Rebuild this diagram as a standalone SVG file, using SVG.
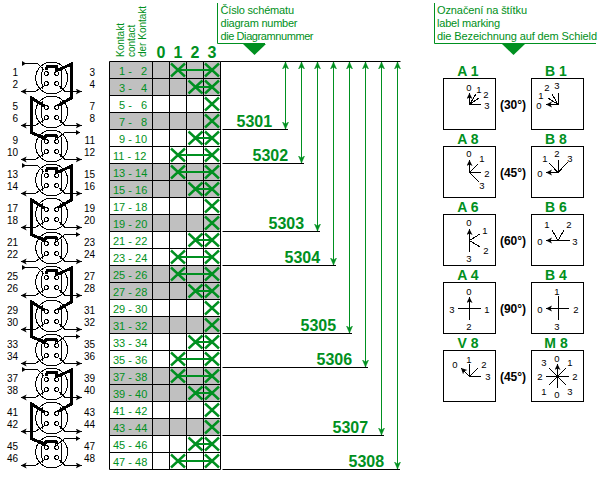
<svg xmlns="http://www.w3.org/2000/svg" xmlns:xlink="http://www.w3.org/1999/xlink" width="600" height="480" viewBox="0 0 600 480">
<style>
text{font-family:"Liberation Sans",Arial,sans-serif}
.g{fill:#009020}
.h{font-size:11px;fill:#009020}
.v{font-size:10px;fill:#009020}
.c{font-size:16px;font-weight:bold;fill:#009020;text-anchor:middle}
.r{font-size:11px;fill:#009020}
.n{font-size:16px;font-weight:bold;fill:#009020}
.t{font-size:14px;font-weight:bold;fill:#009020;text-anchor:middle}
.a{font-size:12px;font-weight:bold;fill:#000;text-anchor:middle}
.d{font-size:9.5px;fill:#000;text-anchor:middle}
.l{font-size:10px;fill:#000;text-anchor:end}
.box{fill:#fff;stroke:#000;stroke-width:1}
.ln{fill:none;stroke:#000;stroke-width:1;shape-rendering:crispEdges}
.ar{fill:none;stroke:#000;stroke-width:1;marker-end:url(#ka);shape-rendering:crispEdges}
.thick{fill:none;stroke:#000;stroke-width:3;shape-rendering:crispEdges}
.gr{fill:#c0c0c0}
.gw{fill:none;stroke:#009020;stroke-width:1;marker-start:url(#ga);marker-end:url(#ga)}
.gl{stroke:#009020;stroke-width:2}
.bk{stroke:#000;stroke-width:1}
</style>
<defs>
<marker id="ga" markerUnits="userSpaceOnUse" markerWidth="9" markerHeight="9" refX="7" refY="4" orient="auto-start-reverse"><path d="M0,1 L7,4 L0,7 L2,4 z" fill="#009020" stroke="#009020" stroke-width="0.5"/></marker>
<marker id="ka" markerUnits="userSpaceOnUse" markerWidth="7" markerHeight="7" refX="6" refY="3" orient="auto"><path d="M0,0 L6,3 L0,6 L1.5,3 z" fill="#000"/></marker>
<g id="x"><path d="M-7,-6.5 L7,6.5 M-7,6.5 L7,-6.5" stroke="#009020" stroke-width="2.4" fill="none"/></g>
<g id="x2"><use xlink:href="#x" href="#x" x="195.5"/><use xlink:href="#x" href="#x" x="212"/><path class="gl" d="M195.5,0 H212"/></g>
<g id="x1"><use xlink:href="#x" href="#x" x="178"/><use xlink:href="#x" href="#x" x="212"/><path class="gl" d="M178,0 H212"/></g>
<g id="sy">
<circle r="16" class="ln"/>
<circle cx="-5.5" cy="-4.5" r="2" class="ln"/><circle cx="5" cy="-4.5" r="2" class="ln"/><circle cx="-5.5" cy="5.5" r="2" class="ln"/><circle cx="5" cy="5.5" r="2" class="ln"/>
<path class="ln" d="M-9,-11 Q-11,0 -9,11 M9,-11 Q11,0 9,11"/>
<path class="ar" d="M-7,7.5 L-16.5,13.5 H-31"/>
<path class="ar" d="M7,7.5 L13.5,13.5 H30"/>
</g>
<path id="tip" d="M0,-2.5 L4,0 L0,2.5 z"/>
</defs>
<rect width="600" height="480" fill="#fff"/>

<g id="sym-1"><use xlink:href="#sy" href="#sy" x="51.7" y="78"/><path class="ln" d="M22,63.5 H37.3 L44,70"/><use xlink:href="#tip" href="#tip" x="22" y="63.5"/><path class="thick" d="M46,70 L47.5,66.5 H56.5 L57,70.5 L71.7,64 V97.7 L57.3,106"/><text class="l" x="18" y="76">1</text><text class="l" x="18" y="88">2</text><text class="l" x="95" y="76">3</text><text class="l" x="95" y="88">4</text></g>
<g id="sym-2"><use xlink:href="#sy" href="#sy" x="51.7" y="112"/><path class="thick" d="M44.3,106 L31,97.7 V132.3 L44.3,138.3 L46.7,135 H56 L56.7,138.3"/><text class="l" x="18" y="110">5</text><text class="l" x="18" y="122">6</text><text class="l" x="95" y="110">7</text><text class="l" x="95" y="122">8</text></g>
<g id="sym-3"><use xlink:href="#sy" href="#sy" x="51.7" y="146"/><path class="ln" d="M57.3,138.3 L65,132.5 H80"/><use xlink:href="#tip" href="#tip" x="76" y="132.5"/><text class="l" x="18" y="144">9</text><text class="l" x="18" y="156">10</text><text class="l" x="95" y="144">11</text><text class="l" x="95" y="156">12</text></g>
<g id="sym-4"><use xlink:href="#sy" href="#sy" x="51.7" y="180"/><path class="ln" d="M22,165.5 H37.3 L44,172"/><use xlink:href="#tip" href="#tip" x="22" y="165.5"/><path class="thick" d="M46,172 L47.5,168.5 H56.5 L57,172.5 L71.7,166 V199.7 L57.3,208"/><text class="l" x="18" y="178">13</text><text class="l" x="18" y="190">14</text><text class="l" x="95" y="178">15</text><text class="l" x="95" y="190">16</text></g>
<g id="sym-5"><use xlink:href="#sy" href="#sy" x="51.7" y="214"/><path class="thick" d="M44.3,208 L31,199.7 V234.3 L44.3,240.3 L46.7,237 H56 L56.7,240.3"/><text class="l" x="18" y="212">17</text><text class="l" x="18" y="224">18</text><text class="l" x="95" y="212">19</text><text class="l" x="95" y="224">20</text></g>
<g id="sym-6"><use xlink:href="#sy" href="#sy" x="51.7" y="248"/><path class="ln" d="M57.3,240.3 L65,234.5 H80"/><use xlink:href="#tip" href="#tip" x="76" y="234.5"/><text class="l" x="18" y="246">21</text><text class="l" x="18" y="258">22</text><text class="l" x="95" y="246">23</text><text class="l" x="95" y="258">24</text></g>
<g id="sym-7"><use xlink:href="#sy" href="#sy" x="51.7" y="282"/><path class="ln" d="M22,267.5 H37.3 L44,274"/><use xlink:href="#tip" href="#tip" x="22" y="267.5"/><path class="thick" d="M46,274 L47.5,270.5 H56.5 L57,274.5 L71.7,268 V301.7 L57.3,310"/><text class="l" x="18" y="280">25</text><text class="l" x="18" y="292">26</text><text class="l" x="95" y="280">27</text><text class="l" x="95" y="292">28</text></g>
<g id="sym-8"><use xlink:href="#sy" href="#sy" x="51.7" y="316"/><path class="thick" d="M44.3,310 L31,301.7 V336.3 L44.3,342.3 L46.7,339 H56 L56.7,342.3"/><text class="l" x="18" y="314">29</text><text class="l" x="18" y="326">30</text><text class="l" x="95" y="314">31</text><text class="l" x="95" y="326">32</text></g>
<g id="sym-9"><use xlink:href="#sy" href="#sy" x="51.7" y="350"/><path class="ln" d="M57.3,342.3 L65,336.5 H80"/><use xlink:href="#tip" href="#tip" x="76" y="336.5"/><text class="l" x="18" y="348">33</text><text class="l" x="18" y="360">34</text><text class="l" x="95" y="348">35</text><text class="l" x="95" y="360">36</text></g>
<g id="sym-10"><use xlink:href="#sy" href="#sy" x="51.7" y="384"/><path class="ln" d="M22,369.5 H37.3 L44,376"/><use xlink:href="#tip" href="#tip" x="22" y="369.5"/><path class="thick" d="M46,376 L47.5,372.5 H56.5 L57,376.5 L71.7,370 V403.7 L57.3,412"/><text class="l" x="18" y="382">37</text><text class="l" x="18" y="394">38</text><text class="l" x="95" y="382">39</text><text class="l" x="95" y="394">40</text></g>
<g id="sym-11"><use xlink:href="#sy" href="#sy" x="51.7" y="418"/><path class="thick" d="M44.3,412 L31,403.7 V438.3 L44.3,444.3 L46.7,441 H56 L56.7,444.3"/><text class="l" x="18" y="416">41</text><text class="l" x="18" y="428">42</text><text class="l" x="95" y="416">43</text><text class="l" x="95" y="428">44</text></g>
<g id="sym-12"><use xlink:href="#sy" href="#sy" x="51.7" y="452"/><path class="ln" d="M57.3,444.3 L65,438.5 H80"/><use xlink:href="#tip" href="#tip" x="76" y="438.5"/><text class="l" x="18" y="450">45</text><text class="l" x="18" y="462">46</text><text class="l" x="95" y="450">47</text><text class="l" x="95" y="462">48</text></g>

<g id="table">
<rect class="gr" x="109.5" y="61.5" width="111" height="34"/>
<rect class="gr" x="109.5" y="112.5" width="111" height="17"/>
<rect class="gr" x="109.5" y="163.5" width="111" height="34"/>
<rect class="gr" x="109.5" y="214.5" width="111" height="17"/>
<rect class="gr" x="109.5" y="265.5" width="111" height="34"/>
<rect class="gr" x="109.5" y="316.5" width="111" height="17"/>
<rect class="gr" x="109.5" y="367.5" width="111" height="34"/>
<rect class="gr" x="109.5" y="418.5" width="111" height="17"/>
<path class="bk" fill="none" d="M109.5,61.5 H220.5 M109.5,78.5 H220.5 M109.5,95.5 H220.5 M109.5,112.5 H220.5 M109.5,129.5 H220.5 M109.5,146.5 H220.5 M109.5,163.5 H220.5 M109.5,180.5 H220.5 M109.5,197.5 H220.5 M109.5,214.5 H220.5 M109.5,231.5 H220.5 M109.5,248.5 H220.5 M109.5,265.5 H220.5 M109.5,282.5 H220.5 M109.5,299.5 H220.5 M109.5,316.5 H220.5 M109.5,333.5 H220.5 M109.5,350.5 H220.5 M109.5,367.5 H220.5 M109.5,384.5 H220.5 M109.5,401.5 H220.5 M109.5,418.5 H220.5 M109.5,435.5 H220.5 M109.5,452.5 H220.5 M109.5,469.5 H220.5 M109.5,61.5 V469.5 M152.5,61.5 V469.5 M169.5,61.5 V469.5 M186.5,61.5 V469.5 M203.5,61.5 V469.5 M220.5,61.5 V469.5"/>
<text class="v" transform="rotate(-90 124 57)" x="124" y="57">Kontakt</text>
<text class="v" transform="rotate(-90 135 57)" x="135" y="57">contact</text>
<text class="v" transform="rotate(-90 146 57)" x="146" y="57">der Kontakt</text>
<text class="c" x="161" y="58">0</text><text class="c" x="178" y="58">1</text><text class="c" x="195" y="58">2</text><text class="c" x="212" y="58">3</text>
<text class="r" x="119" y="74.5">1 - <tspan x="141">2</tspan></text>
<text class="r" x="119" y="91.5">3 - <tspan x="141">4</tspan></text>
<text class="r" x="119" y="108.5">5 - <tspan x="141">6</tspan></text>
<text class="r" x="119" y="125.5">7 - <tspan x="141">8</tspan></text>
<text class="r" x="119" y="142.5">9 - <tspan x="134.8">10</tspan></text>
<text class="r" x="113" y="159.5">11 - 12</text>
<text class="r" x="113" y="176.5">13 - 14</text>
<text class="r" x="113" y="193.5">15 - 16</text>
<text class="r" x="113" y="210.5">17 - 18</text>
<text class="r" x="113" y="227.5">19 - 20</text>
<text class="r" x="113" y="244.5">21 - 22</text>
<text class="r" x="113" y="261.5">23 - 24</text>
<text class="r" x="113" y="278.5">25 - 26</text>
<text class="r" x="113" y="295.5">27 - 28</text>
<text class="r" x="113" y="312.5">29 - 30</text>
<text class="r" x="113" y="329.5">31 - 32</text>
<text class="r" x="113" y="346.5">33 - 34</text>
<text class="r" x="113" y="363.5">35 - 36</text>
<text class="r" x="113" y="380.5">37 - 38</text>
<text class="r" x="113" y="397.5">39 - 40</text>
<text class="r" x="113" y="414.5">41 - 42</text>
<text class="r" x="113" y="431.5">43 - 44</text>
<text class="r" x="113" y="448.5">45 - 46</text>
<text class="r" x="113" y="465.5">47 - 48</text>
<use xlink:href="#x1" href="#x1" y="70"/>
<use xlink:href="#x2" href="#x2" y="87"/>
<use xlink:href="#x" href="#x" x="212" y="104"/>
<use xlink:href="#x" href="#x" x="212" y="121"/>
<use xlink:href="#x2" href="#x2" y="138"/>
<use xlink:href="#x1" href="#x1" y="155"/>
<use xlink:href="#x1" href="#x1" y="172"/>
<use xlink:href="#x2" href="#x2" y="189"/>
<use xlink:href="#x" href="#x" x="212" y="206"/>
<use xlink:href="#x" href="#x" x="212" y="223"/>
<use xlink:href="#x2" href="#x2" y="240"/>
<use xlink:href="#x1" href="#x1" y="257"/>
<use xlink:href="#x1" href="#x1" y="274"/>
<use xlink:href="#x2" href="#x2" y="291"/>
<use xlink:href="#x" href="#x" x="212" y="308"/>
<use xlink:href="#x" href="#x" x="212" y="325"/>
<use xlink:href="#x2" href="#x2" y="342"/>
<use xlink:href="#x1" href="#x1" y="359"/>
<use xlink:href="#x1" href="#x1" y="376"/>
<use xlink:href="#x2" href="#x2" y="393"/>
<use xlink:href="#x" href="#x" x="212" y="410"/>
<use xlink:href="#x" href="#x" x="212" y="427"/>
<use xlink:href="#x2" href="#x2" y="444"/>
<use xlink:href="#x1" href="#x1" y="461"/>
</g>

<g id="connectors">
<path class="bk" fill="none" d="M220.5,61.5 H400.5 M222.5,129.5 H288 M222.5,163.5 H304 M222.5,231.5 H320 M222.5,265.5 H336 M222.5,333.5 H352 M222.5,367.5 H368 M222.5,435.5 H384 M222.5,469.5 H400"/>
<path class="gw" d="M285.5,62 V129"/>
<path class="gw" d="M301.5,62 V163"/>
<path class="gw" d="M317.5,62 V231"/>
<path class="gw" d="M333.5,62 V265"/>
<path class="gw" d="M349.5,62 V333"/>
<path class="gw" d="M365.5,62 V367"/>
<path class="gw" d="M381.5,62 V435"/>
<path class="gw" d="M397.5,62 V469"/>
</g>
<g id="numbers">
<text class="n" x="236.5" y="127">5301</text>
<text class="n" x="252.5" y="161">5302</text>
<text class="n" x="268.5" y="229">5303</text>
<text class="n" x="284.5" y="263">5304</text>
<text class="n" x="300.5" y="331">5305</text>
<text class="n" x="316.5" y="365">5306</text>
<text class="n" x="332.5" y="433">5307</text>
<text class="n" x="348.5" y="467">5308</text>
</g>

<g id="header-number">
<path d="M217.5,3 V43.5 H265" fill="none" stroke="#009020"/>
<path d="M243,44 H266 L254.5,55 z" fill="#009020"/>
<text class="h" x="220.5" y="14" textLength="73.5">Číslo schématu</text>
<text class="h" x="220.5" y="27" textLength="77">diagram number</text>
<text class="h" x="220.5" y="40" textLength="93">die Diagramnummer</text>
</g>
<g id="header-label">
<path d="M434.5,3 V43.5 H596" fill="none" stroke="#009020"/>
<path d="M502,44 H525 L513.5,55 z" fill="#009020"/>
<text class="h" x="437" y="14" textLength="90">Označení na štítku</text>
<text class="h" x="437" y="27" textLength="63">label marking</text>
<text class="h" x="437" y="40" textLength="160">die Bezeichnung auf dem Schield</text>
</g>

<g id="dial-a1"><text class="t" x="468" y="76">A 1</text><rect class="box" x="443.5" y="78.5" width="52" height="51"/><path class="ln" d="M469.5,104.5 L479,98 M469.5,104.5 L476,94 M469.5,104.5 H481"/><path class="ar" d="M469.5,104.5 V93"/><text class="d" x="469" y="90.5">0</text><text class="d" x="479" y="92.5">1</text><text class="d" x="486" y="97.5">2</text><text class="d" x="487" y="108.5">3</text></g>
<g id="dial-b1"><text class="t" x="556" y="76">B 1</text><rect class="box" x="531.5" y="78.5" width="52" height="51"/><path class="ln" d="M558,104.5 L548,98 M558,104.5 L552,94 M558,104.5 V92.5"/><path class="ar" d="M558,104.5 H546"/><text class="d" x="539" y="108.5">0</text><text class="d" x="541" y="98.5">1</text><text class="d" x="547" y="91">2</text><text class="d" x="557" y="89">3</text></g>
<g id="dial-a8"><text class="t" x="468" y="144">A 8</text><rect class="box" x="443.5" y="146.5" width="52" height="51"/><path class="ln" d="M469.5,172.5 L478,164 M469.5,172.5 H481 M469.5,172.5 L479,182"/><path class="ar" d="M469.5,172.5 V160"/><text class="d" x="469" y="156.5">0</text><text class="d" x="482" y="161.5">1</text><text class="d" x="487" y="176.5">2</text><text class="d" x="482" y="188.5">3</text></g>
<g id="dial-b8"><text class="t" x="556" y="144">B 8</text><rect class="box" x="531.5" y="146.5" width="52" height="51"/><path class="ln" d="M558,172.5 L549,163 M558,172.5 V160 M558,172.5 L568,162"/><path class="ar" d="M558,172.5 H546"/><text class="d" x="545" y="162">1</text><text class="d" x="557" y="156.5">2</text><text class="d" x="570" y="162">3</text><text class="d" x="540" y="176.5">0</text></g>
<g id="dial-a6"><text class="t" x="468" y="212">A 6</text><rect class="box" x="443.5" y="214.5" width="52" height="51"/><path class="ln" d="M469.5,240.5 L480,234 M469.5,240.5 L480,247 M469.5,240.5 V252"/><path class="ar" d="M469.5,240.5 V229"/><text class="d" x="469" y="225.5">0</text><text class="d" x="485" y="233.5">1</text><text class="d" x="486" y="253.5">2</text><text class="d" x="469" y="261.5">3</text></g>
<g id="dial-b6"><text class="t" x="556" y="212">B 6</text><rect class="box" x="531.5" y="214.5" width="52" height="51"/><path class="ln" d="M558,240.5 L552,230 M558,240.5 L564,230 M558,240.5 H570"/><path class="ar" d="M558,240.5 H546"/><text class="d" x="540" y="244.5">0</text><text class="d" x="547" y="227.5">1</text><text class="d" x="569" y="227.5">2</text><text class="d" x="575" y="244.5">3</text></g>
<g id="dial-a4"><text class="t" x="468" y="280">A 4</text><rect class="box" x="443.5" y="282.5" width="52" height="51"/><path class="ln" d="M458,308.5 H481 M469.5,308.5 V320"/><path class="ar" d="M469.5,308.5 V297"/><text class="d" x="469" y="294.5">0</text><text class="d" x="487" y="312.5">1</text><text class="d" x="469" y="329.5">2</text><text class="d" x="452" y="312.5">3</text></g>
<g id="dial-b4"><text class="t" x="556" y="280">B 4</text><rect class="box" x="531.5" y="282.5" width="52" height="51"/><path class="ln" d="M558,296 V320 M558,308.5 H569"/><path class="ar" d="M558,308.5 H546"/><text class="d" x="540" y="312.5">0</text><text class="d" x="557" y="294.5">1</text><text class="d" x="576" y="312.5">2</text><text class="d" x="557" y="329.5">3</text></g>
<g id="dial-v8"><text class="t" x="468" y="348">V 8</text><rect class="box" x="443.5" y="350.5" width="52" height="51"/><path class="ln" d="M469.5,376.5 V364 M469.5,376.5 L478,368 M469.5,376.5 H481"/><path class="ar" d="M469.5,376.5 L461,368"/><text class="d" x="455" y="367.5">0</text><text class="d" x="469" y="362.5">1</text><text class="d" x="484" y="367.5">2</text><text class="d" x="488" y="380">3</text></g>
<g id="dial-m8"><text class="t" x="556" y="348">M 8</text><rect class="box" x="531.5" y="350.5" width="52" height="51"/><path class="ln" d="M546,376.5 H569 M557.5,376.5 V388 M549,368 L566,385 M566,368 L549,385"/><path class="ar" d="M557.5,376.5 V364"/><circle cx="557.5" cy="376.5" r="1.5"/><text class="d" x="557" y="361.5">0</text><text class="d" x="570" y="365.5">1</text><text class="d" x="575" y="380">2</text><text class="d" x="570" y="394.5">3</text><text class="d" x="557" y="397.5">0</text><text class="d" x="544" y="394.5">1</text><text class="d" x="540" y="380">2</text><text class="d" x="544" y="365.5">3</text></g>

<g id="angles">
<text class="a" x="513" y="108.5">(30°)</text>
<text class="a" x="513" y="176.5">(45°)</text>
<text class="a" x="513" y="244.5">(60°)</text>
<text class="a" x="513" y="312.5">(90°)</text>
<text class="a" x="513" y="380.5">(45°)</text>
</g>
</svg>
